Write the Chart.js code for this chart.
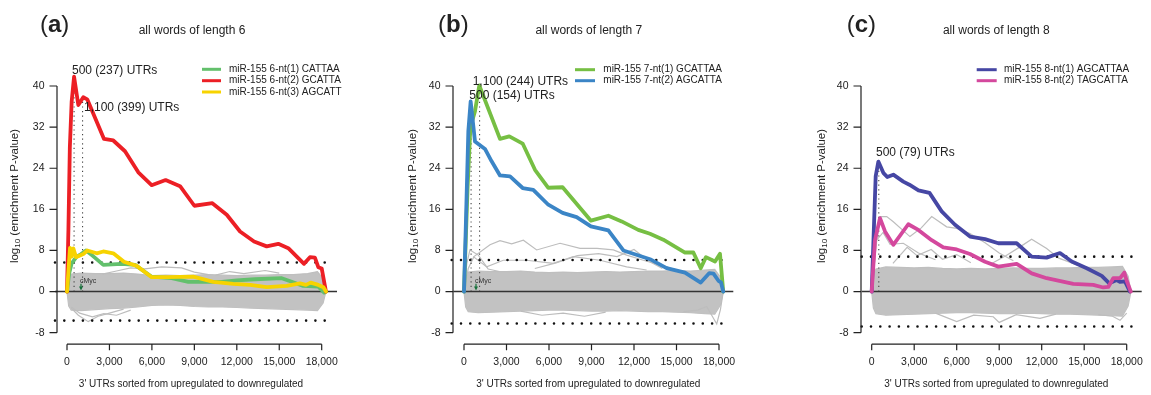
<!DOCTYPE html>
<html lang="en">
<head>
<meta charset="UTF-8">
<title>miR-155 word enrichment</title>
<script src="https://cdn.jsdelivr.net/npm/chart.js@4.4.0/dist/chart.umd.min.js"></script>
<style>
    body { margin: 0; background: #fff; }
    .panel { position: absolute; top: 0; height: 395px; }
</style>
</head>
<body>
<div class="panel" style="left:0;width:390px"><canvas id="cA" width="390" height="395"></canvas></div>
<div class="panel" style="left:390px;width:390px"><canvas id="cB" width="390" height="395"></canvas></div>
<div class="panel" style="left:780px;width:371px"><canvas id="cC" width="371" height="395"></canvas></div>
<script>
// ---- data (x = rank of 3' UTR, y = log10 enrichment P-value) ----
const xTicks = [0, 3000, 6000, 9000, 12000, 15000, 18000];
const yTicks = [-8, 0, 8, 16, 24, 32, 40];

// (a) 6-mers
const a_cattaa = [[0,0],[150,3.5],[330,5.5],[685,6.8],[1000,7.3],[1340,8.0],[1800,7.0],[2565,5.2],[3200,5.3],[3866,5.4],[4806,5.2],[5985,2.9],[7399,2.6],[8573,1.9],[10000,1.9],[10933,1.9],[12000,2.2],[13286,2.4],[15173,2.6],[15880,1.9],[16700,1.1],[17760,0.95],[18180,-0.2],[18300,0]];
const a_gcatta = [[0,0],[100,12],[200,28],[330,37],[500,41.8],[800,36.3],[1150,37.8],[1430,37.4],[2615,29.7],[3270,29.4],[4100,27.3],[5040,23.2],[5980,20.7],[6970,21.7],[7990,20.5],[9000,16.7],[10270,17.2],[11290,14.95],[12230,11.7],[13220,9.75],[14110,8.8],[14930,9.3],[15640,8.45],[16750,5.4],[17170,6.7],[17520,6.6],[17760,4.75],[18000,4.5],[18300,0]];
const a_agcatt = [[0,0],[212,8.5],[332,6.8],[445,8.4],[636,6.7],[1152,7.3],[1435,8.0],[2100,7.45],[2565,7.8],[3272,7.45],[4028,5.8],[4926,5.0],[5986,2.8],[7046,2.8],[8926,2.9],[10340,1.9],[11760,1.5],[12933,1.3],[14113,0.85],[15527,1.1],[16467,1.6],[16890,1.3],[17220,1.75],[17760,1.3],[18120,0.85],[18305,0]];

// (b) 7-mers
const b_gcattaa = [[0,0],[250,20],[450,32],[776,35.1],[1080,40.1],[2540,29.7],[3200,30.2],[4140,28.8],[5010,23.7],[5950,20.2],[6960,20.3],[8960,13.8],[10190,14.75],[11130,13.65],[12300,12.0],[13130,11.25],[14070,10.1],[15600,7.6],[16190,7.6],[16710,4.55],[17080,6.7],[17720,5.85],[18070,7.35],[18300,0]];
const b_agcatta = [[0,0],[150,15],[306,31.2],[470,37.0],[776,29.2],[1480,27.75],[1950,25.35],[2540,22.6],[3250,22.4],[4140,20.15],[4890,19.8],[5950,16.9],[6960,15.3],[7950,14.5],[8960,12.7],[10190,11.9],[11250,8.0],[13130,6.3],[14300,4.55],[15600,3.7],[16710,1.75],[17320,3.6],[17610,3.5],[17960,2.1],[18140,1.8],[18300,0]];

// (c) 8-mers
const c_agcattaa = [[0,0],[150,12],[280,22.4],[470,25.3],[820,23.1],[1100,22.3],[1525,22.75],[2230,21.4],[2660,20.8],[3300,19.7],[4080,19.2],[4940,15.6],[5880,13.0],[6940,10.7],[8000,10.2],[8940,9.4],[10230,9.4],[11290,6.8],[12350,6.6],[13290,7.5],[14120,5.85],[15180,4.55],[16240,3.05],[16770,1.6],[17290,2.25],[17520,1.9],[17880,2.0],[18230,0]];
const c_tagcatta = [[0,0],[233,10],[586,14.3],[940,11.7],[1525,9.1],[2583,13.1],[3290,12.0],[4235,10.0],[5054,8.6],[6000,8.2],[6940,7.3],[8000,5.8],[8940,4.85],[10235,5.4],[11295,3.55],[12350,2.6],[14230,1.5],[15640,1.3],[16350,0.8],[16700,0.9],[17050,2.6],[17530,2.6],[17830,3.7],[18000,2.1],[18290,0]];

// background words: envelope of the grey bundle + the grey curves that stick out of it
const bandX  = [0,120,300,1000,2000,3000,4000,5000,6000,7000,8000,9000,10000,11000,12000,13000,14000,15000,16000,17000,17700,18100,18300];
const a_bandHi = [0,2.5,3.4,3.6,3.5,3.5,3.6,3.4,3.1,3.2,3.1,3.2,3.3,3.2,3.1,3.2,3.2,3.3,3.3,3.5,3.9,2.5,0];
const a_bandLo = [0,-2.8,-3.6,-3.7,-3.5,-3.3,-3.2,-3.0,-2.7,-2.6,-2.7,-2.9,-3.0,-3.0,-3.1,-3.2,-3.3,-3.4,-3.5,-3.6,-3.7,-2.2,0];
const b_bandHi = [0,2.8,3.8,4.0,3.9,3.9,4.0,3.8,3.7,3.8,3.7,3.8,3.9,3.8,3.9,4.0,4.0,4.1,4.0,4.2,4.3,2.8,0];
const b_bandLo = [0,-3.0,-3.9,-4.1,-4.0,-3.9,-3.8,-3.7,-3.6,-3.6,-3.7,-3.8,-3.8,-3.7,-3.8,-3.9,-3.9,-4.0,-4.1,-4.3,-4.4,-2.6,0];
const c_bandHi = [0,3.2,4.4,4.8,4.7,4.6,4.7,4.5,4.4,4.5,4.4,4.5,4.6,4.5,4.5,4.6,4.6,4.7,4.7,4.8,4.9,3.0,0];
const c_bandLo = [0,-3.2,-4.3,-4.6,-4.5,-4.4,-4.3,-4.2,-4.1,-4.1,-4.2,-4.3,-4.3,-4.2,-4.3,-4.4,-4.4,-4.5,-4.6,-4.7,-4.8,-2.8,0];

const a_grey = [
    [[300,-3.2],[800,-4.6],[1500,-5.85],[2200,-4.8],[3000,-4.2],[4000,-3.4]],
    [[300,-3.0],[900,-4.2],[1800,-4.9],[2600,-4.3],[3500,-4.6],[4500,-3.6]],
    [[2500,3.4],[3500,4.0],[4500,4.6],[5500,4.4],[6690,4.8],[8100,4.6],[9000,3.8],[10000,3.3]],
    [[10500,3.2],[11500,3.9],[12500,3.5],[14000,4.1],[15000,3.6]]
];
const b_grey = [
    [[0,0],[300,4.5],[700,6.8],[1835,9.1],[2540,9.9],[3365,9.3],[4190,10.0],[5130,8.1],[6780,9.4],[8190,8.4],[9390,8.4],[10540,8.1],[11480,7.1],[12660,6.1],[14310,4.8],[15250,3.9]],
    [[660,6.8],[1600,4.8],[2775,6.1],[4425,6.1],[6300,5.5],[7715,6.8],[9600,6.1],[11480,4.8],[12890,4.2]],
    [[0,0],[200,5.5],[420,8.1],[1010,7.1],[1700,4.4],[2500,3.9]],
    [[5000,4.5],[6500,5.6],[8000,7.0],[9500,7.4],[10800,6.8],[12000,8.2],[13000,6.0],[14000,4.5]],
    [[4000,-3.8],[5500,-4.6],[7000,-4.2],[8500,-4.8],[10000,-4.0]],
    [[15500,-3.9],[16500,-3.6],[17130,-2.9],[17840,-6.3],[18100,-3.5],[18300,0]]
];
const c_grey = [
    [[0,0],[300,9],[586,14.6],[1060,14.6],[1525,13.6],[2700,10.7],[3500,12.4],[4235,14.6],[5290,12.6],[6000,12.3],[6940,11.3],[8000,9.5],[9000,7.5],[10000,6.0]],
    [[0,0],[350,10.0],[800,11.5],[1300,9.2],[2230,9.4],[3300,7.5],[4500,6.2]],
    [[1500,5.5],[2500,8.6],[3200,7.0],[4200,8.2],[5000,6.3],[6000,7.2],[7000,5.6]],
    [[8500,5.5],[9500,7.0],[10470,8.7],[11290,10.2],[12350,8.4],[13200,6.5],[14500,5.2]],
    [[4500,-4.2],[6000,-5.85],[7200,-4.6],[8580,-4.9],[9000,-6.0],[10200,-4.5],[11880,-5.2],[13000,-4.4]],
    [[16000,-4.5],[17000,-4.8],[17530,-5.6],[18000,-4.2]]
];

// significance cut-offs (dotted) and marked cut points
const a_cut = [5.65, -5.65];
const b_cut = [6.15, -6.2];
const c_cut = [6.8, -6.8];
const a_marks = [[500, 41.5], [1100, 37.3]];
const b_marks = [[500, 37.0], [1100, 40.0]];
const c_marks = [[500, 25.0]];

// ---- layout (pixels inside each panel) ----
const FONT = '"Liberation Sans", Arial, Helvetica, sans-serif';
const Y40 = 86, YM8 = 332.7, TOP = 40, BOTTOM = 350;

const panels = [
    {
        id: 'cA', letter: 'a', sub: 'all words of length 6', letterX: 40, subX: 192,
        x0: 67, x18: 321.7, left: 50, right: 340, yAxisX: 57, yTitleX: 15, xTitleX: 191,
        zero: [-848, 19081], dots: [-848, 18728], cut: a_cut, marks: a_marks,
        band: [a_bandHi, a_bandLo], grey: a_grey,
        series: [
            { name: 'miR-155 6-nt(1) CATTAA', color: '#63c06c', data: a_cattaa },
            { name: 'miR-155 6-nt(2) GCATTA', color: '#ec1f25', data: a_gcatta },
            { name: 'miR-155 6-nt(3) AGCATT', color: '#f7d300', data: a_agcatt }
        ],
        legend: { x1: 202, x2: 221, tx: 229, y: [69.3, 80.7, 92] },
        notes: [['500 (237) UTRs', 353, 43.0], ['1,100 (399) UTRs', 1201, 35.7]],
        myc: { text: 919, arrow: 989 }
    },
    {
        id: 'cB', letter: 'b', sub: 'all words of length 7', letterX: 48, subX: 198.8,
        x0: 74, x18: 329, left: 58, right: 346, yAxisX: 63, yTitleX: 23, xTitleX: 198.3,
        zero: [-753, 19009], dots: [-868, 18656], cut: b_cut, marks: b_marks,
        band: [b_bandHi, b_bandLo], grey: b_grey,
        series: [
            { name: 'miR-155 7-nt(1) GCATTAA', color: '#76bf43', data: b_gcattaa },
            { name: 'miR-155 7-nt(2) AGCATTA', color: '#3b85c6', data: b_agcatta }
        ],
        legend: { x1: 185, x2: 205, tx: 213.3, y: [69.7, 80.7] },
        notes: [['1,100 (244) UTRs', 614, 40.8], ['500 (154) UTRs', 374, 38.1]],
        myc: { text: 776, arrow: 847 }
    },
    {
        id: 'cC', letter: 'c', sub: 'all words of length 8', letterX: 66.7, subX: 216.3,
        x0: 91.7, x18: 346.7, left: 78, right: 366, yAxisX: 81, yTitleX: 42, xTitleX: 216.3,
        zero: [-706, 19059], dots: [-706, 18706], cut: c_cut, marks: c_marks,
        band: [c_bandHi, c_bandLo], grey: c_grey,
        series: [
            { name: 'miR-155 8-nt(1) AGCATTAA', color: '#4647a4', data: c_agcattaa },
            { name: 'miR-155 8-nt(2) TAGCATTA', color: '#d4489d', data: c_tagcatta }
        ],
        legend: { x1: 196.7, x2: 216.7, tx: 224, y: [69.7, 80.7] },
        notes: [['500 (79) UTRs', 303, 27.0]],
        myc: null
    }
];

function f_pts(arr) { return arr.map(p => ({ x: p[0], y: p[1] })); }

// axes, labels, legend and notes drawn R-style on top of the chart
function f_decor(cfg) {
    return {
        id: 'decor' + cfg.letter,
        afterDraw(chart) {
            const xs = chart.scales.x, ys = chart.scales.y, c = chart.ctx;
            const ax = cfg.yAxisX;
            const yTop = ys.getPixelForValue(40), yBot = ys.getPixelForValue(-8);
            const axY = yBot + 11.5;
            c.save();
            c.strokeStyle = '#222'; c.lineWidth = 1.2; c.lineCap = 'butt';
            c.beginPath();
            c.moveTo(ax, yTop); c.lineTo(ax, yBot);
            yTicks.forEach(v => { const py = ys.getPixelForValue(v); c.moveTo(ax - 7.5, py); c.lineTo(ax, py); });
            c.moveTo(xs.getPixelForValue(0), axY); c.lineTo(xs.getPixelForValue(18000), axY);
            xTicks.forEach(v => { const px = xs.getPixelForValue(v); c.moveTo(px, axY); c.lineTo(px, axY + 6); });
            c.stroke();

            c.fillStyle = '#222';
            c.font = '10.5px ' + FONT;
            c.textBaseline = 'middle';
            c.textAlign = 'right';
            yTicks.forEach(v => c.fillText(String(v), ax - 12.5, ys.getPixelForValue(v)));
            c.textAlign = 'center';
            xTicks.forEach(v => c.fillText(v.toLocaleString('en-US'), xs.getPixelForValue(v), axY + 18));

            c.font = '10px ' + FONT;
            c.fillText("3' UTRs sorted from upregulated to downregulated", cfg.xTitleX, 384);

            // y title with subscript
            c.save();
            c.translate(cfg.yTitleX, 196);
            c.rotate(-Math.PI / 2);
            c.font = '11.5px ' + FONT;
            const w1 = c.measureText('log').width, w3 = c.measureText(' (enrichment P-value)').width;
            c.font = '8px ' + FONT;
            const w2 = c.measureText('10').width;
            let sx = -(w1 + w2 + w3) / 2;
            c.textAlign = 'left';
            c.font = '11.5px ' + FONT; c.fillText('log', sx, 0);
            c.font = '8px ' + FONT; c.fillText('10', sx + w1, 3);
            c.font = '11.5px ' + FONT; c.fillText(' (enrichment P-value)', sx + w1 + w2, 0);
            c.restore();

            // panel letter and subtitle
            c.textAlign = 'left';
            let lx = cfg.letterX;
            c.font = '24px ' + FONT; c.fillText('(', lx, 25); lx += c.measureText('(').width;
            c.font = 'bold 24px ' + FONT; c.fillText(cfg.letter, lx, 25); lx += c.measureText(cfg.letter).width;
            c.font = '24px ' + FONT; c.fillText(')', lx, 25);
            c.textAlign = 'center';
            c.font = '12px ' + FONT;
            c.fillText(cfg.sub, cfg.subX, 31);

            // legend
            c.textAlign = 'left';
            c.font = '10px ' + FONT;
            cfg.series.forEach((s, i) => {
                const ly = cfg.legend.y[i];
                c.strokeStyle = s.color; c.lineWidth = 3;
                c.beginPath(); c.moveTo(cfg.legend.x1, ly); c.lineTo(cfg.legend.x2, ly); c.stroke();
                c.fillStyle = '#222';
                c.fillText(s.name, cfg.legend.tx, ly);
            });

            // cut-point notes
            c.font = '12px ' + FONT;
            cfg.notes.forEach(n => c.fillText(n[0], xs.getPixelForValue(n[1]), ys.getPixelForValue(n[2])));

            // cMyc marker
            if (cfg.myc) {
                c.font = '7px ' + FONT;
                c.fillStyle = '#333';
                c.fillText('cMyc', xs.getPixelForValue(cfg.myc.text), ys.getPixelForValue(2.1));
                const px = xs.getPixelForValue(cfg.myc.arrow);
                const p1 = ys.getPixelForValue(1.5), p2 = ys.getPixelForValue(0.2);
                c.strokeStyle = '#16703a'; c.fillStyle = '#16703a'; c.lineWidth = 1.2;
                c.beginPath(); c.moveTo(px, p1); c.lineTo(px, p2 - 3); c.stroke();
                c.beginPath(); c.moveTo(px - 2, p2 - 4); c.lineTo(px + 2, p2 - 4); c.lineTo(px, p2); c.closePath(); c.fill();
            }
            c.restore();
        }
    };
}

function f_makeChart(cfg) {
    const k = (cfg.x18 - cfg.x0) / 18000;
    const ky = (YM8 - Y40) / 48;
    const xMin = (cfg.left - cfg.x0) / k, xMax = (cfg.right - cfg.x0) / k;
    const yMax = 40 + (Y40 - TOP) / ky, yMin = -8 - (BOTTOM - YM8) / ky;
    const l_canvas = document.getElementById(cfg.id);
    const sets = [];

    // first dataset ends up on top
    for (let i = cfg.series.length - 1; i >= 0; i--) {
        const s = cfg.series[i];
        sets.push({ data: f_pts(s.data), borderColor: s.color, borderWidth: 3.8, borderJoinStyle: 'round', borderCapStyle: 'round' });
    }
    sets.push({ data: f_pts([[cfg.zero[0], 0], [cfg.zero[1], 0]]), borderColor: '#333', borderWidth: 1.5 });
    cfg.marks.forEach(m => sets.push({ data: f_pts([[m[0], 0], [m[0], m[1]]]), borderColor: '#444', borderWidth: 1.1, borderDash: [1.2, 3.4] }));
    cfg.cut.forEach(v => sets.push({ data: f_pts([[cfg.dots[0], v], [cfg.dots[1], v]]), borderColor: '#111', borderWidth: 2.6, borderDash: [0, 9.3], borderCapStyle: 'round' }));
    cfg.grey.forEach(g => sets.push({ data: f_pts(g), borderColor: '#bdbdbd', borderWidth: 1.2 }));
    sets.push({ data: bandX.map((x, i) => ({ x: x, y: cfg.band[0][i] })), borderColor: '#bfbfbf', borderWidth: 1.2, fill: '+1', backgroundColor: '#c2c2c2' });
    sets.push({ data: bandX.map((x, i) => ({ x: x, y: cfg.band[1][i] })), borderColor: '#bfbfbf', borderWidth: 1.2 });

    return new Chart(l_canvas.getContext('2d'), {
        type: 'line',
        data: { datasets: sets },
        options: {
            responsive: false,
            animation: false,
            layout: { padding: { left: cfg.left, right: l_canvas.width - cfg.right, top: TOP, bottom: 395 - BOTTOM } },
            elements: { point: { radius: 0, hoverRadius: 0 }, line: { tension: 0 } },
            scales: {
                x: { type: 'linear', display: false, min: xMin, max: xMax },
                y: { type: 'linear', display: false, min: yMin, max: yMax }
            },
            plugins: { legend: { display: false }, tooltip: { enabled: false } },
            events: []
        },
        plugins: [f_decor(cfg)]
    });
}

panels.forEach(f_makeChart);
</script>
</body>
</html>
